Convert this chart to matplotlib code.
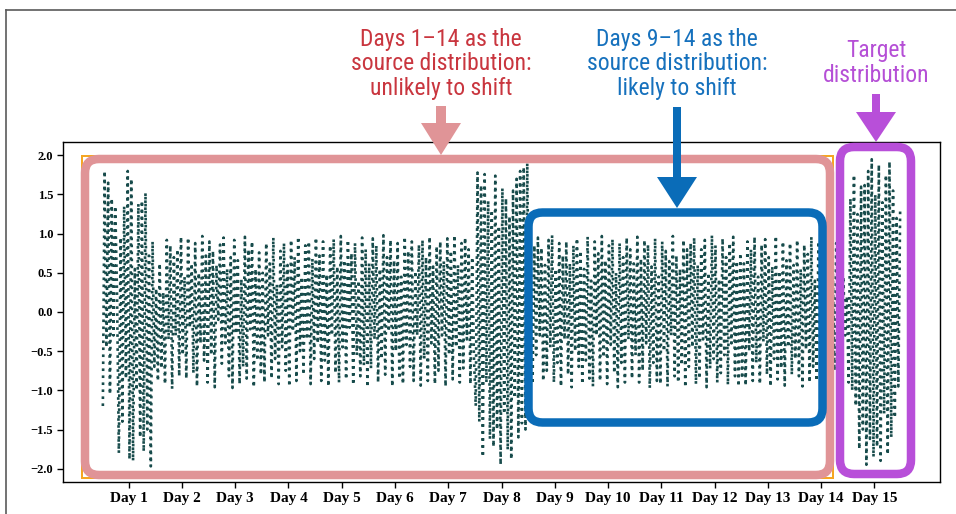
import matplotlib
matplotlib.use("Agg")
import matplotlib.pyplot as plt
import numpy as np
from matplotlib import font_manager
from matplotlib.lines import Line2D
from matplotlib.patches import FancyArrow, FancyBboxPatch, Rectangle
from matplotlib.transforms import IdentityTransform

# -----------------------------------------------------------------------------
# Data (hourly-ish readings, 30 per day)
# -----------------------------------------------------------------------------

DAY_01 = [-1.20, 1.80, -0.45, 1.65, -1.05, 1.45, -0.30, 1.35, 0.20, -1.80,
          0.95, -1.40, 1.35, -0.85, 1.80, -1.88, 1.70, -1.90, 0.55, -1.00,
          1.38, -1.60, 1.42, -1.78, 1.52, -1.50, 0.72, -1.97, 0.90, -0.70]
DAY_02 = [0.30, -0.88, 0.62, -0.72, 0.25, -0.92, 0.92, -0.35, 0.85, -0.98,
          0.70, -0.30, 0.80, -0.82, 0.96, -0.55, 0.45, -0.85, 0.95, -0.20,
          0.62, -0.78, 0.88, -0.95, 0.50, -0.40, 0.97, -0.62, 0.72, -0.90]
DAY_03 = [0.90, -0.55, 0.78, -0.96, 0.60, -0.10, 0.86, -0.66, 0.95, -0.40,
          0.55, -0.82, 0.70, -0.97, 0.92, -0.28, 0.66, -0.92, 0.42, -0.70,
          0.96, -0.85, 0.80, -0.22, 0.90, -0.96, 0.55, -0.62, 0.76, -0.80]
DAY_04 = [0.50, -0.90, 0.88, -0.30, 0.62, -0.85, 0.95, -0.60, 0.35, -0.92,
          0.78, -0.45, 0.88, -0.75, 0.60, -0.95, 0.92, -0.25, 0.70, -0.88,
          0.96, -0.50, 0.45, -0.80, 0.85, -0.35, 0.90, -0.92, 0.68, -0.60]
DAY_05 = [0.95, -0.40, 0.72, -0.88, 0.90, -0.62, 0.48, -0.95, 0.85, -0.30,
          0.93, -0.78, 0.58, -0.90, 0.97, -0.45, 0.66, -0.86, 0.92, -0.20,
          0.75, -0.93, 0.88, -0.55, 0.40, -0.82, 0.95, -0.68, 0.80, -0.96]
DAY_06 = [0.62, -0.72, 0.94, -0.35, 0.85, -0.90, 0.55, -0.60, 0.98, -0.80,
          0.70, -0.25, 0.92, -0.95, 0.66, -0.50, 0.88, -0.85, 0.45, -0.92,
          0.96, -0.42, 0.78, -0.70, 0.90, -0.88, 0.52, -0.30, 0.86, -0.94]
DAY_07 = [0.92, -0.60, 0.70, -0.88, 0.96, -0.40, 0.58, -0.92, 0.84, -0.75,
          0.90, -0.30, 0.65, -0.95, 0.94, -0.55, 0.78, -0.86, 0.98, -0.45,
          0.60, -0.90, 0.88, -0.72, 0.95, -0.35, 0.80, -0.92, 0.70, -0.60]
DAY_08 = [-1.20, 1.78, -1.40, 1.62, -1.85, 1.76, -0.90, 1.42, -1.62, 1.30,
          -1.72, 1.74, -1.50, 1.10, -1.95, 1.58, -1.30, 1.45, -1.76, 1.22,
          -1.88, 1.55, -1.10, 1.70, -1.60, 1.80, -1.42, 1.85, -1.50, 1.90]
DAY_09 = [-0.40, 0.70, -0.92, 0.85, -0.55, 0.95, -0.30, 0.82, -0.88, 0.60,
          -0.75, 0.92, -0.45, 0.98, -0.90, 0.55, -0.65, 0.88, -0.95, 0.72,
          -0.35, 0.90, -0.80, 0.62, -0.96, 0.85, -0.50, 0.94, -0.70, 0.78]
DAY_10 = [-0.92, 0.55, -0.62, 0.96, -0.85, 0.40, -0.95, 0.90, -0.30, 0.75,
          -0.88, 0.97, -0.58, 0.66, -0.92, 0.85, -0.42, 0.93, -0.78, 0.50,
          -0.96, 0.88, -0.65, 0.70, -0.90, 0.95, -0.35, 0.80, -0.85, 0.62]
DAY_11 = [-0.55, 0.96, -0.90, 0.68, -0.75, 0.92, -0.40, 0.86, -0.97, 0.58,
          -0.65, 0.94, -0.88, 0.45, -0.92, 0.90, -0.50, 0.78, -0.95, 0.65,
          -0.30, 0.97, -0.82, 0.72, -0.90, 0.55, -0.68, 0.92, -0.96, 0.80]
DAY_12 = [-0.70, 0.88, -0.45, 0.95, -0.92, 0.60, -0.85, 0.80, -0.35, 0.92,
          -0.96, 0.50, -0.72, 0.98, -0.60, 0.85, -0.90, 0.42, -0.78, 0.94,
          -0.55, 0.70, -0.93, 0.88, -0.40, 0.96, -0.82, 0.65, -0.95, 0.75]
DAY_13 = [-0.85, 0.62, -0.94, 0.90, -0.50, 0.80, -0.88, 0.96, -0.65, 0.45,
          -0.92, 0.86, -0.38, 0.93, -0.80, 0.70, -0.95, 0.58, -0.60, 0.97,
          -0.86, 0.52, -0.72, 0.90, -0.94, 0.66, -0.45, 0.88, -0.80, 0.60]
DAY_14 = [-0.60, 0.92, -0.82, 0.55, -0.95, 0.86, -0.48, 0.74, -0.90, 0.96,
          -0.70, 0.40, -0.88, 0.90, -0.55, 0.82, -0.96, 0.68, -0.40, 0.93,
          -0.85, 0.60, -0.75, 0.88, -0.50, 0.70, -0.62, 0.45, -0.30, 0.20]
DAY_15 = [-0.90, 1.45, -1.00, 1.75, -1.20, 1.25, -1.75, 1.60, -1.50, 1.62,
          -1.95, 1.80, -1.62, 1.95, -1.85, 1.50, -1.72, 1.88, -1.90, 1.40,
          -1.30, 1.75, -1.82, 1.92, -1.60, 1.55, -1.35, 1.20, -0.95, 1.30]

DAYS = [DAY_01, DAY_02, DAY_03, DAY_04, DAY_05, DAY_06, DAY_07, DAY_08,
        DAY_09, DAY_10, DAY_11, DAY_12, DAY_13, DAY_14, DAY_15]
DAY_LABELS = [f"Day {i}" for i in range(1, 16)]
Y_TICKS = [-2.0, -1.5, -1.0, -0.5, 0.0, 0.5, 1.0, 1.5, 2.0]

RED_TEXT = "Days 1\u201314 as the\nsource distribution:\nunlikely to shift"
BLUE_TEXT = "Days 9\u201314 as the\nsource distribution:\nlikely to shift"
PURPLE_TEXT = "Target\ndistribution"

# -----------------------------------------------------------------------------
# Configuration
# -----------------------------------------------------------------------------

W, H = 956, 514
DPI = 100

LINE_COLOR = "#174b4b"
PINK = "#e09497"
ORANGE = "#f5a623"
BLUE = "#0a6cb8"
PURPLE = "#b84fd9"
RED_TXT = "#c9363f"
BLUE_TXT = "#1671bd"
PURPLE_TXT = "#b54fd6"


def pick_font(candidates):
    names = {f.name for f in font_manager.fontManager.ttflist}
    for name in candidates:
        if name in names:
            return name
    return "DejaVu Sans"


ANNOT_FONT = pick_font(["Liberation Sans Narrow", "Roboto Condensed", "Roboto"])
SERIF_FONT = pick_font(["Liberation Serif", "DejaVu Serif"])


def fx(x):
    return x / W


def fy(y):
    return 1 - y / H


def rounded_box(fig, x0, y0, x1, y1, color, lw, radius):
    # pixel coords, y measured from top, stroke centre line
    box = FancyBboxPatch(
        (x0, H - y1), x1 - x0, y1 - y0,
        boxstyle=f"round,pad=0,rounding_size={radius}",
        fill=False, edgecolor=color, linewidth=lw * 72 / DPI,
        transform=IdentityTransform(), zorder=4,
    )
    fig.add_artist(box)


def down_arrow(fig, x, y_top, y_tip, color, shaft, head_w, head_l):
    arr = FancyArrow(
        x, H - y_top, 0, -(y_tip - y_top),
        width=shaft, head_width=head_w, head_length=head_l,
        length_includes_head=True, color=color, linewidth=0,
        transform=IdentityTransform(), zorder=6,
    )
    fig.add_artist(arr)


# -----------------------------------------------------------------------------
# Plotting
# -----------------------------------------------------------------------------


def main():
    fig = plt.figure(figsize=(W / DPI, H / DPI), dpi=DPI)
    ax = fig.add_axes([fx(63), fy(482), (940 - 63) / W, (482 - 142) / H])

    values = np.concatenate([np.asarray(d, dtype=float) for d in DAYS])
    per_day = len(DAY_01)
    x = np.arange(len(values))

    ax.plot(x, values, linestyle=":", color=LINE_COLOR, linewidth=1.9)

    ax.set_ylim(-2.17, 2.17)
    ax.set_yticks(Y_TICKS)
    ax.set_yticklabels([f"{v:.1f}".replace("-", "\u2212") for v in Y_TICKS],
                       fontfamily=SERIF_FONT, fontweight="bold", fontsize=9)
    centers = [i * per_day + (per_day - 1) / 2 for i in range(len(DAYS))]
    ax.set_xticks(centers)
    ax.set_xticklabels(DAY_LABELS, fontfamily=SERIF_FONT, fontweight="bold",
                       fontsize=11)
    ax.tick_params(axis="both", direction="out", length=4, width=1, pad=3)
    for spine in ax.spines.values():
        spine.set_linewidth(1.0)

    # outer frame of the screenshot
    fig.add_artist(Line2D([6, W], [H - 10, H - 10], color="#5a5a5a",
                          linewidth=1.2, transform=IdentityTransform()))
    fig.add_artist(Line2D([6, 6], [0, H - 10], color="#5a5a5a",
                          linewidth=1.2, transform=IdentityTransform()))

    # orange rectangle hidden under the pink box
    fig.add_artist(Rectangle((82, H - 478), 751, 322, fill=False,
                             edgecolor=ORANGE, linewidth=2 * 72 / DPI,
                             transform=IdentityTransform(), zorder=3))

    rounded_box(fig, 85, 159, 830, 475, PINK, 8.5, 14)
    rounded_box(fig, 528.5, 212.5, 822.5, 422.5, BLUE, 8.5, 14)
    rounded_box(fig, 840, 147, 911, 474, PURPLE, 8.5, 14)

    down_arrow(fig, 441, 106, 155, PINK, 10, 40, 32)
    down_arrow(fig, 677, 107, 208, BLUE, 8, 40, 31)
    down_arrow(fig, 876, 94, 142, PURPLE, 8, 40, 30)

    text_kw = dict(ha="center", va="center", fontfamily=ANNOT_FONT,
                   fontsize=17, linespacing=1.1, multialignment="center")
    fig.text(fx(441), fy(64), RED_TEXT, color=RED_TXT, **text_kw)
    fig.text(fx(677), fy(64), BLUE_TEXT, color=BLUE_TXT, **text_kw)
    fig.text(fx(876), fy(63), PURPLE_TEXT, color=PURPLE_TXT, **text_kw)

    fig.savefig("out.png", dpi=DPI)
    plt.close(fig)


if __name__ == "__main__":
    main()
